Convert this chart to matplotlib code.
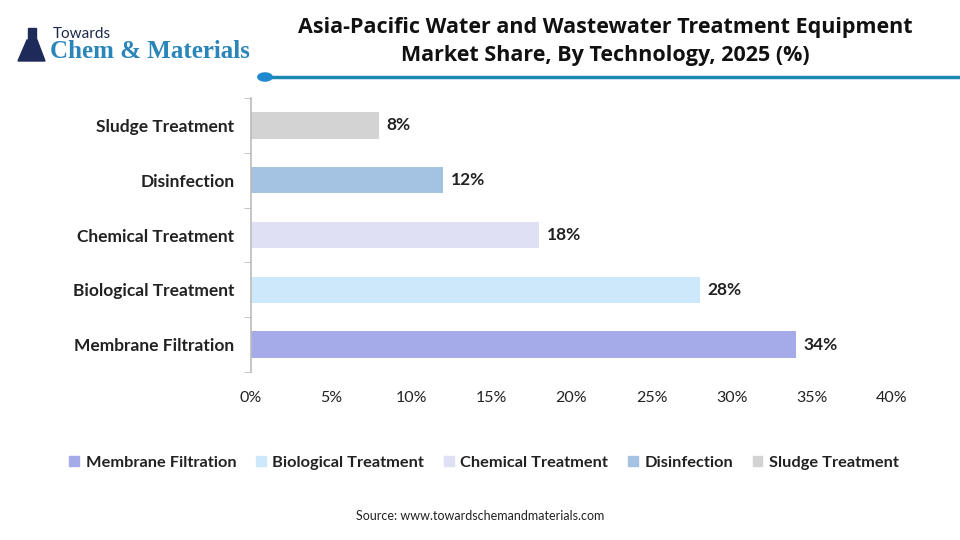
import matplotlib
matplotlib.use("Agg")
import matplotlib.pyplot as plt
from matplotlib.patches import Circle, Rectangle, Polygon

categories = ["Membrane Filtration", "Biological Treatment", "Chemical Treatment", "Disinfection", "Sludge Treatment"]
values = [34, 28, 18, 12, 8]
colors = ["#A4ABE8", "#CCE8FA", "#E0E0F4", "#A4C2E2", "#D3D3D3"]
xticks = [0, 5, 10, 15, 20, 25, 30, 35, 40]
xtick_labels = [f"{t}%" for t in xticks]

plt.rcParams['font.family'] = ['Lato', 'DejaVu Sans']

fig = plt.figure(figsize=(9.6, 5.4), dpi=100)
fig.patch.set_facecolor("white")

ax = fig.add_axes([251/960, 1-372/540, (892-251)/960, (372-98)/540])
y = list(range(len(categories)))
bars = ax.barh(y, values, height=0.48, color=colors)
for yi, v in zip(y, values):
    ax.text(v + 0.45, yi, f"{v}%", va="center", ha="left", fontsize=12.5, fontweight="bold", color="#222222")
ax.set_xlim(0, 40)
ax.set_ylim(-0.5, 4.5)
ax.set_yticks(y)
ax.set_yticklabels(categories, fontsize=12.5, fontweight="bold", color="#222222")
ax.set_yticks([i + 0.5 for i in range(-1, 5)], minor=True)
ax.tick_params(axis="y", which="major", length=0, pad=12)
ax.tick_params(axis="y", which="minor", length=5, color="#BBBBBB")
ax.set_xticks(xticks)
ax.set_xticklabels(xtick_labels, fontsize=11.5, color="#222222")
ax.tick_params(axis="x", length=0, pad=14)
for s in ["top", "right", "bottom"]:
    ax.spines[s].set_visible(False)
ax.spines["left"].set_color("#BBBBBB")
ax.spines["left"].set_linewidth(1.2)

# Title
fig.text(605/960, 1-27/540, "Asia-Pacific Water and Wastewater Treatment Equipment", ha="center", va="center",
         fontsize=15.5, fontweight="bold", color="#111111", family=["Open Sans", "DejaVu Sans"])
fig.text(605/960, 1-55/540, "Market Share, By Technology, 2025 (%)", ha="center", va="center",
         fontsize=15.5, fontweight="bold", color="#111111", family=["Open Sans", "DejaVu Sans"])
# Decorative line
fig.add_artist(plt.Line2D([265/960, 1.0], [1-77/540, 1-77/540], transform=fig.transFigure, color="#1E88B0", lw=2.5))
fig.add_artist(Circle((265/960, 1-77/540), 0.0075, transform=fig.transFigure, color="#1E88D0", zorder=5))

# Logo
fig.text(53/960, 1-34/540, "Towards", fontsize=11, color="#1E2A4A", va="center", ha="left")
fig.text(50/960, 1-52/540, "Chem & Materials", fontsize=18, color="#2A86B8", fontweight="bold", va="center", ha="left",
         family=["Liberation Serif"])
fig.add_artist(Polygon([(18/960, 1-61/540), (45/960, 1-61/540), (37/960, 1-40/540), (27/960, 1-40/540)],
                       closed=True, transform=fig.transFigure, color="#1E2A5A"))
fig.add_artist(Rectangle((28/960, 1-40/540), 8/960, 12/540, transform=fig.transFigure, color="#1E2A5A"))

# Legend
handles = [Rectangle((0, 0), 1, 1, color=c) for c in colors]
leg = fig.legend(handles, categories, loc="center", bbox_to_anchor=(484/960, 1-463/540), ncol=5, frameon=False,
                 fontsize=11.8, handlelength=0.6, handleheight=0.6, handletextpad=0.4, columnspacing=1.2)
for t in leg.get_texts():
    t.set_fontweight("bold")
    t.set_color("#222222")

fig.text(480/960, 1-516/540, "Source: www.towardschemandmaterials.com", ha="center", va="center", fontsize=9, color="#222222")

fig.savefig("out.png", dpi=100)
